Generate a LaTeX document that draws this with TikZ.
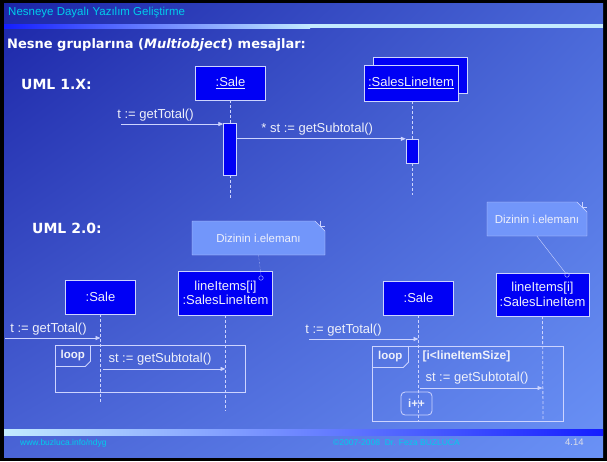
\documentclass[tikz,border=0pt]{standalone}
\usepackage{fontspec}
\setmainfont{Liberation Sans}
\newfontfamily\headfont{DejaVu Sans}
\usetikzlibrary{calc}
\usetikzlibrary{positioning}
\usetikzlibrary{arrows.meta,shapes.misc,shadings}

\definecolor{bgTL}{RGB}{28,38,168}
\definecolor{bgTR}{RGB}{74,104,216}
\definecolor{bgBL}{RGB}{74,100,214}
\definecolor{bgBR}{RGB}{106,146,246}
\definecolor{barBlue}{RGB}{20,30,255}
\definecolor{barCyan}{RGB}{195,235,255}
\definecolor{objBlue}{RGB}{0,0,245}
\definecolor{edgeC}{RGB}{205,212,255}
\definecolor{noteC}{RGB}{114,150,250}
\definecolor{footC}{RGB}{0,205,235}
\definecolor{textC}{RGB}{238,240,250}

\tikzset{
  msg/.style={draw=edgeC, line width=0.8pt, -{Triangle[length=5pt,width=4pt]}},
  lifeline/.style={draw=edgeC, line width=0.8pt, dash pattern=on 3pt off 2pt},
  obj/.style={draw=edgeC, fill=objBlue, text=textC, align=center, inner sep=1pt,
    font=\fontsize{13}{14.5}\selectfont},
  act/.style={draw=edgeC, fill=objBlue, minimum width=13pt, inner sep=0pt},
  msgtext/.style={text=textC, inner sep=2pt, font=\fontsize{13}{15}\selectfont},
  notebox/.style={chamfered rectangle, chamfered rectangle corners=north east,
    chamfered rectangle xsep=5pt, chamfered rectangle ysep=5pt,
    draw=edgeC, fill=noteC, text=textC, inner sep=1pt, font=\fontsize{11.5}{13}\selectfont},
  pin/.style={circle, draw=edgeC, inner sep=0pt, minimum size=4.5pt},
  loopbox/.style={draw=edgeC, line width=0.8pt, inner sep=0pt},
  looptag/.style={text=textC, font=\bfseries\fontsize{11.5}{13}\selectfont, inner sep=0pt,
    minimum height=21pt, anchor=north west},
  heading/.style={text=white, font=\headfont\bfseries\fontsize{14}{16}\selectfont, inner sep=0pt, anchor=west}
}

\begin{document}
\begin{tikzpicture}[x=1pt, y=-1pt]
  \useasboundingbox (0,0) rectangle (607,461);

  % slide background
  \fill [black] (0,0) rectangle (607,461);
  \shade [upper left=bgTL, upper right=bgTR, lower left=bgBL, lower right=bgBR]
    (4,3) rectangle (603,457);
  \shade [left color=barBlue, right color=barCyan] (4,24) rectangle (310,28);
  \fill [barCyan] (309,24) rectangle (603,28);
  \shade [left color=barCyan, right color=barBlue] (4,429) rectangle (603,435);

  \node [anchor=west, inner sep=0pt, text=footC, font=\fontsize{11.5}{13}\selectfont] (slidetitle) at (8,13)
    {Nesneye Dayalı Yazılım Geliştirme};
  \node [heading, font=\headfont\bfseries\fontsize{13}{15}\selectfont] (topic) at (7,45)
    {Nesne gruplarına (\textit{Multiobject}) mesajlar:};

  % UML 1.X
  \node [heading] (uml1) at (21,84) {UML 1.X:};
  \node [obj, minimum width=70pt, minimum height=34pt] (sale1) at (230.5,83) {\underline{:Sale}};
  \node [obj, minimum width=94pt, minimum height=36pt] (sliback) at (420,75) {};
  \node [obj, minimum width=94pt, minimum height=36pt] (sli1) at (411,83) {\underline{:SalesLineItem}};
  \node [act, minimum height=52pt] (act1) at (230,149) {};
  \node [act, minimum height=24pt, minimum width=12pt] (act2) at (412,151) {};
  \coordinate (end1a) at (230,198);
  \coordinate (end1b) at (412,195);
  \coordinate (caller1) at (121,124);

  \draw [lifeline] (sale1.south -| act1) -- (act1.north);
  \draw [lifeline] (act1.south) -- (end1a);
  \draw [lifeline] (sli1.south -| act2) -- (act2.north);
  \draw [lifeline] (act2.south) -- (end1b);
  \draw [msg] (caller1) -- (caller1 -| act1.west)
    node [msgtext, pos=0, above right, xshift=-6pt] (m1) {t := getTotal()};
  \draw [msg] (act1.east |- act2.north) -- (act2.north west)
    node [msgtext, midway, above=1pt, xshift=-4pt] (m2) {* st := getSubtotal()};

  % UML 2.0, left
  \node [heading] (uml2) at (32,228) {UML 2.0:};
  \node [obj, minimum width=70pt, minimum height=34pt] (sale2) at (100.5,297) {:Sale};
  \node [obj, minimum width=94pt, minimum height=44pt] (sli2) at (225.5,293) {lineItems[i]\\:SalesLineItem};
  \node [notebox, minimum width=133pt, minimum height=34pt] (note2) at (258.5,238) {Dizinin i.elemanı};
  \draw [edgeC] ([xshift=-5pt]note2.north -| note2.east) -- ++(0,5) -- ([yshift=-5pt]note2.north -| note2.east);
  \node [pin] (pin2) at (261,278) {};
  \draw [edgeC, densely dotted] (note2.south) -- (pin2.north);
  \node [loopbox, minimum width=190pt, minimum height=47pt, anchor=north west] (loop2) at (55,345) {};
  \node [looptag, minimum width=35pt] (tag2) at (loop2.north west) {loop};
  \draw [edgeC, line width=0.8pt] (tag2.north east) -- ([yshift=5pt]tag2.south east)
    -- ([xshift=-5pt]tag2.south east) -- (tag2.south west);
  \coordinate (end2a) at (100.5,403);
  \coordinate (end2b) at (225.5,411);
  \coordinate (caller2) at (5,338);

  \draw [lifeline] (sale2.south) -- (end2a);
  \draw [lifeline] (sli2.south) -- (end2b);
  \draw [msg] (caller2) -- (caller2 -| sale2)
    node [msgtext, pos=0, above right, xshift=3pt] (m3) {t := getTotal()};
  \draw [msg] ([xshift=2pt]sale2 |- loop2.center) -- (sli2 |- loop2.center)
    node [msgtext, midway, above=1pt, xshift=-4pt] (m4) {st := getSubtotal()};

  % UML 2.0, right
  \node [obj, minimum width=70pt, minimum height=34pt] (sale3) at (418.5,298) {:Sale};
  \node [obj, minimum width=93pt, minimum height=43pt] (sli3) at (542.5,294.5) {lineItems[i]\\:SalesLineItem};
  \node [notebox, minimum width=100pt, minimum height=34pt] (note3) at (537,219) {Dizinin i.elemanı};
  \draw [edgeC] ([xshift=-5pt]note3.north -| note3.east) -- ++(0,5) -- ([yshift=-5pt]note3.north -| note3.east);
  \node [pin] (pin3) at (567,275) {};
  \draw [edgeC, thin] (note3.south) -- (pin3);
  \node [loopbox, minimum width=191pt, minimum height=75pt, anchor=north west] (loop3) at (372,346) {};
  \node [looptag, minimum width=36pt] (tag3) at (loop3.north west) {loop};
  \draw [edgeC, line width=0.8pt] (tag3.north east) -- ([yshift=5pt]tag3.south east)
    -- ([xshift=-5pt]tag3.south east) -- (tag3.south west);
  \node [msgtext, font=\bfseries\fontsize{12}{14}\selectfont, right=13pt of tag3, inner sep=1pt] (guard3)
    {[i<lineItemSize]};
  \node [draw=edgeC, line width=0.8pt, rounded corners=4pt, minimum width=31pt, minimum height=23pt,
    text=textC, font=\bfseries\fontsize{11.5}{13}\selectfont, inner sep=0pt] (incr3) at (416.5,403.5) {i++};
  \coordinate (end3a) at (418.5,421);
  \coordinate (end3b) at (543,421);
  \coordinate (caller3) at (309,339);
  \coordinate (call3) at (0,388);

  \draw [lifeline] (sale3.south) -- (end3a);
  \draw [lifeline] (sli3.south) -- (end3b);
  \draw [msg] (caller3) -- (caller3 -| sale3)
    node [msgtext, pos=0, above right, xshift=-6pt] (m5) {t := getTotal()};
  \draw [msg] ([xshift=1pt]sale3 |- call3) -- (sli3 |- call3)
    node [msgtext, midway, above=1pt, xshift=-4pt] (m6) {st := getSubtotal()};

  % footer
  \node [anchor=west, inner sep=0pt, text=footC, font=\fontsize{8.5}{10}\selectfont] (site) at (20,443)
    {www.buzluca.info/ndyg};
  \node [anchor=west, inner sep=0pt, text=footC, font=\fontsize{8.5}{10}\selectfont] (author) at (333,443)
    {©2007-2008~~Dr. Feza BUZLUCA};
  \node [anchor=west, inner sep=0pt, text=textC!85!gray, font=\fontsize{9.5}{11}\selectfont] (pageno) at (565,442)
    {4.14};
\end{tikzpicture}
\end{document}
